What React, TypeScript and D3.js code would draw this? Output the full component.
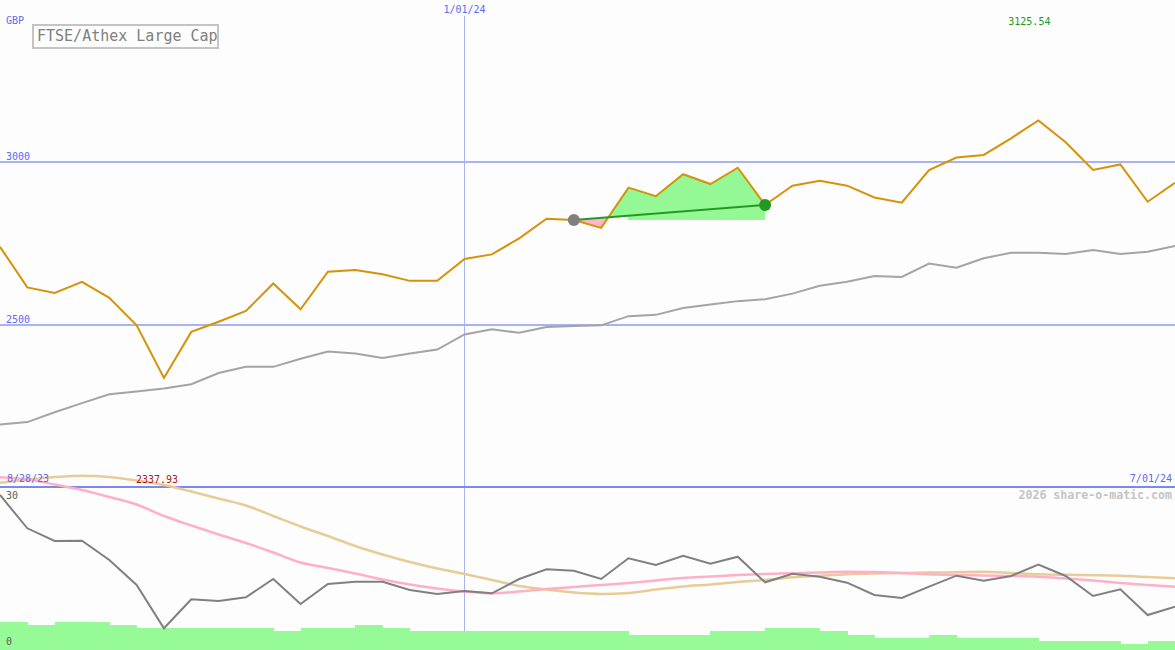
import { useMemo } from 'react'
import * as d3 from 'd3'

const W = 1175
const H = 650

// weekly closes, 4 Sep 2023 .. 1 Jul 2024
const startDate = new Date(2023, 8, 4)
const price = [
  2739, 2615, 2598, 2632, 2583, 2499, 2337.93, 2479, 2510, 2543, 2627, 2548,
  2663, 2668, 2655, 2635, 2635, 2702, 2716, 2765, 2825, 2821, 2797, 2920,
  2894, 2961, 2931, 2981, 2867, 2926, 2941, 2926, 2890, 2874, 2974, 3012,
  3020, 3071, 3125.54, 3059, 2974, 2991, 2877, 2935,
]
const average = [
  2196, 2203, 2233, 2261, 2288, 2297, 2306, 2319, 2353, 2372, 2372, 2397,
  2419, 2413, 2399, 2413, 2425, 2471, 2487, 2476, 2494, 2497, 2499, 2527,
  2531, 2552, 2563, 2573, 2579, 2596, 2620, 2632, 2650, 2647, 2688, 2675,
  2704, 2721, 2721, 2717, 2729, 2717, 2724, 2742,
]
const oscillator = [
  30.0, 23.16, 20.55, 20.61, 16.64, 11.51, 2.61, 8.57, 8.22, 8.98, 12.74, 7.6,
  11.71, 12.19, 12.19, 10.48, 9.66, 10.27, 9.8, 12.74, 14.73, 14.45, 12.74,
  16.99, 15.62, 17.53, 15.88, 17.32, 12.06, 13.83, 13.21, 11.98, 9.45, 8.84,
  11.16, 13.42, 12.39, 13.36, 15.68, 13.36, 9.25, 10.62, 5.34, 7.05,
]
const oscFast = [
  33.64, 33.18, 32.16, 31.03, 29.59, 28.05, 25.69, 23.73, 21.88, 20.14, 18.18,
  16.13, 15.0, 13.87, 12.64, 11.61, 10.79, 10.17, 9.76, 10.17, 10.68, 11.1,
  11.51, 11.92, 12.43, 12.95, 13.25, 13.56, 13.77, 13.91, 14.08, 14.24, 14.18,
  13.97, 13.71, 13.56, 13.46, 13.36, 13.21, 12.84, 12.43, 11.92, 11.51, 11.16,
]
const oscSlow = [
  32.53, 33.18, 33.7, 33.97, 33.7, 32.98, 32.05, 30.72, 29.28, 27.84, 25.69,
  23.53, 21.58, 19.52, 17.77, 16.23, 14.9, 13.77, 12.53, 11.3, 10.58, 9.97,
  9.66, 9.86, 10.58, 11.2, 11.61, 12.12, 12.53, 13.09, 13.4, 13.71, 13.87,
  13.97, 14.06, 14.14, 14.22, 13.97, 13.71, 13.6, 13.52, 13.4, 13.15, 12.88,
]
const volume = [
  10.4, 9.2, 10.4, 10.4, 9.2, 8.2, 8.2, 8.2, 8.2, 8.2, 7.0, 8.2, 8.2, 9.2, 8.2,
  7.0, 7.0, 7.0, 7.0, 7.0, 7.0, 7.0, 7.0, 5.5, 5.5, 5.5, 7.0, 7.0, 8.2, 8.2,
  7.0, 5.5, 4.5, 4.5, 5.5, 4.5, 4.5, 4.5, 3.3, 3.3, 3.3, 2.3, 3.3, 3.3,
]
const priceTicks = [2500, 3000]
const trendFrom = 21
const trendTo = 28
const currency = 'GBP'
const title = 'FTSE/Athex Large Cap'
const midLabel = '1/01/24'
const startLabel = '8/28/23'
const endLabel = '7/01/24'
const credit = '2026 share-o-matic.com'

const dates = price.map((_, i) => d3.timeWeek.offset(startDate, i))

const font = '"DejaVu Sans Mono", monospace'

export default function App() {
  const x = useMemo(
    () =>
      d3
        .scaleTime()
        .domain([dates[0], dates[dates.length - 1]])
        .range([0, W]),
    []
  )
  const y = d3.scaleLinear().domain([2500, 3000]).range([325, 161.5])
  const yOsc = d3.scaleLinear().domain([0, 30]).range([641, 495])
  const yVol = d3.scaleLinear().domain([0, 60]).range([H, 487])

  const step = x(dates[1]) - x(dates[0])
  const maxIdx = d3.maxIndex(price)
  const minIdx = d3.minIndex(price)

  const lineOf = (vals: number[], sy: d3.ScaleLinear<number, number>) =>
    d3
      .line<number>()
      .x((_, i) => x(dates[i]))
      .y((d) => sy(d))(vals) || ''

  const smoothOf = (vals: number[]) =>
    d3
      .line<number>()
      .x((_, i) => x(dates[i]))
      .y((d) => yOsc(d))
      .curve(d3.curveMonotoneX)(vals) || ''

  // trend between two closes
  const p0 = price[trendFrom]
  const p1 = price[trendTo]
  const trendAt = (i: number) =>
    p0 + ((p1 - p0) * (i - trendFrom)) / (trendTo - trendFrom)
  const seg = d3.range(trendFrom, trendTo + 1)
  const bandArea =
    d3
      .area<number>()
      .x((i) => x(dates[i]))
      .y0((i) => y(trendAt(i)))
      .y1((i) => y(price[i]))(seg) || ''
  const xa = x(dates[trendFrom])
  const xb = x(dates[trendTo])
  const ya = y(trendAt(trendFrom))
  const yb = y(trendAt(trendTo))
  const aboveClip = `M${xa},0L${xb},0L${xb},${yb}L${xa},${ya}Z`
  const belowClip = `M${xa},${ya}L${xb},${yb}L${xb},${H}L${xa},${H}Z`
  const boxSeg = d3.range(trendFrom + 2, trendTo + 1)
  const boxArea =
    d3
      .area<number>()
      .x((i) => x(dates[i]))
      .y0(() => y(p0))
      .y1((i) => y(trendAt(i)))(boxSeg) || ''

  const blue = '#5b6cf2'
  const grid = '#a8b4f2'

  return (
    <svg
      width={W}
      height={H}
      style={{ position: 'absolute', left: 0, top: 0, display: 'block' }}
      shapeRendering="crispEdges"
    >
      <defs>
        <clipPath id="above">
          <path d={aboveClip} />
        </clipPath>
        <clipPath id="below">
          <path d={belowClip} />
        </clipPath>
      </defs>
      <rect width={W} height={H} fill="#fcfdfc" />

      <line
        x1={x(dates[17])}
        x2={x(dates[17])}
        y1={16}
        y2={H}
        stroke={grid}
        strokeWidth={1}
      />

      {volume.map((v, i) => (
        <rect
          key={i}
          x={x(dates[i])}
          y={yVol(v)}
          width={step + 0.5}
          height={H - yVol(v)}
          fill="#96fa96"
        />
      ))}

      {priceTicks.map((t) => (
        <g key={t}>
          <line
            x1={0}
            x2={W}
            y1={y(t)}
            y2={y(t)}
            stroke={grid}
            strokeWidth={2}
          />
          <text
            x={6}
            y={y(t) - 2}
            fontFamily={font}
            fontSize={10}
            fill={blue}
          >
            {t}
          </text>
        </g>
      ))}

      <line x1={0} x2={W} y1={487} y2={487} stroke="#7b88ee" strokeWidth={2} />

      <path
        d={lineOf(average, y)}
        fill="none"
        stroke="#a4a4a4"
        strokeWidth={2}
        shapeRendering="auto"
      />

      <path d={boxArea} fill="#94f894" />
      <path d={bandArea} fill="#94f894" clipPath="url(#above)" />
      <path d={bandArea} fill="#ffb8c8" clipPath="url(#below)" />

      <path
        d={lineOf(price, y)}
        fill="none"
        stroke="#d69208"
        strokeWidth={2}
        shapeRendering="auto"
      />
      <line
        x1={xa}
        y1={ya}
        x2={xb}
        y2={yb}
        stroke="#229a22"
        strokeWidth={2}
        shapeRendering="auto"
      />
      <circle cx={xa} cy={ya} r={6} fill="#808080" shapeRendering="auto" />
      <circle cx={xb} cy={yb} r={6} fill="#229a22" shapeRendering="auto" />

      <path
        d={smoothOf(oscSlow)}
        fill="none"
        stroke="#e8cc98"
        strokeWidth={2.5}
        shapeRendering="auto"
      />
      <path
        d={smoothOf(oscFast)}
        fill="none"
        stroke="#ffb0c8"
        strokeWidth={2.5}
        shapeRendering="auto"
      />
      <path
        d={lineOf(oscillator, yOsc)}
        fill="none"
        stroke="#808080"
        strokeWidth={2}
        shapeRendering="auto"
      />

      <g fontFamily={font} fontSize={10}>
        <text x={6} y={24} fill={blue}>
          {currency}
        </text>
        <text x={x(dates[17])} y={13} fill={blue} textAnchor="middle">
          {midLabel}
        </text>
        <text x={x(dates[maxIdx]) - 9} y={25} fill="#229a22" textAnchor="middle">
          {d3.format('.2f')(price[maxIdx])}
        </text>
        <text x={x(dates[minIdx]) - 7} y={483} fill="#aa1a1a" textAnchor="middle">
          {d3.format('.2f')(price[minIdx])}
        </text>
        <text x={7} y={482} fill={blue}>
          {startLabel}
        </text>
        <text x={1172} y={482} fill={blue} textAnchor="end">
          {endLabel}
        </text>
        <text x={6} y={499} fill="#606060">
          {yOsc.domain()[1]}
        </text>
        <text x={6} y={645} fill="#606060">
          {yOsc.domain()[0]}
        </text>
        <text
          x={1172}
          y={499}
          fill="#c4c4c4"
          textAnchor="end"
          fontSize={11.6}
          fontWeight="bold"
        >
          {credit}
        </text>
      </g>

      <rect
        x={33}
        y={25}
        width={185}
        height={23}
        fill="#fcfdfc"
        stroke="#c4c4c4"
        strokeWidth={2}
      />
      <text x={37} y={41} fontFamily={font} fontSize={15} fill="#808080">
        {title}
      </text>
    </svg>
  )
}
